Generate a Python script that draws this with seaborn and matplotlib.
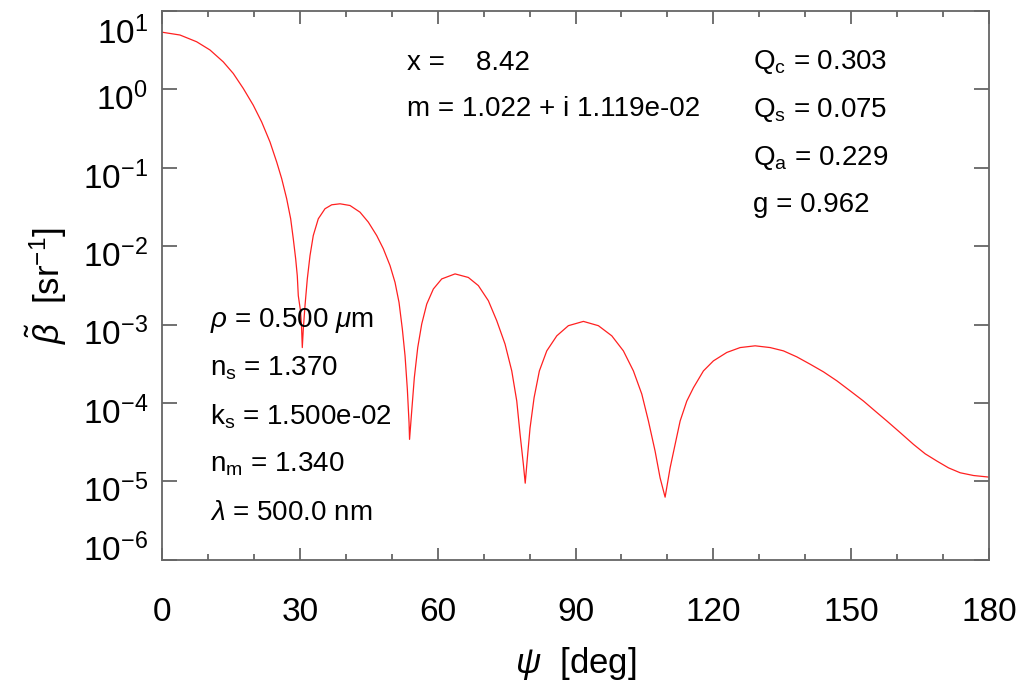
import numpy as np
import pandas as pd
import matplotlib
matplotlib.use("Agg")
import matplotlib.pyplot as plt
import matplotlib.transforms as mtransforms
import seaborn as sns
from matplotlib.ticker import LogLocator, MultipleLocator, NullLocator

# scattering angle [deg] and phase function [1/sr]
psi = [0.15, 3.92, 7.55, 10.45, 13.34, 15.52, 17.70, 19.87, 21.70, 23.51, 24.97, 26.06, 27.14,
       28.01, 28.58, 29.10, 29.45, 29.67, 30.15, 30.37, 30.54,
       30.76, 31.13, 31.63, 32.22, 32.93, 34.02, 35.48, 36.94, 38.75, 40.92, 43.10, 44.91, 46.73,
       48.17, 49.63, 50.72, 51.59, 52.31, 52.90, 53.40, 53.77, 53.88,
       54.35, 54.92, 55.66, 56.53, 57.62, 59.06, 60.88, 63.78, 66.67, 68.85, 71.03, 72.86, 74.66,
       76.12, 77.21, 77.93, 78.65, 79.05,
       79.52, 80.10, 80.98, 82.13, 83.74, 85.92, 88.44, 91.71, 94.97, 97.89, 100.41, 102.59, 104.42,
       105.86, 107.31, 108.40, 109.49,
       110.58, 111.67, 112.76, 114.21, 115.66, 117.83, 120.0, 122.92, 125.82, 129.08, 132.35, 135.24,
       138.16, 141.05, 143.95, 146.87, 149.76, 152.66, 155.20, 157.75, 160.64, 163.54, 166.09, 168.63,
       171.16, 173.70, 176.6, 180.0]
beta = [5.36, 4.95, 4.06, 3.19, 2.25, 1.60, 1.03, 0.630, 0.385, 0.214, 0.1186, 0.0727, 0.0404,
        0.0224, 0.01244, 6.9e-3, 4.2e-3, 2.34e-3, 1.5e-3, 9.7e-4, 5.1e-4,
        8.8e-4, 1.75e-3, 3.83e-3, 7.6e-3, 0.0137, 0.0224, 0.0301, 0.0338, 0.0348, 0.0331, 0.0272, 0.0203, 0.0137,
        9.3e-3, 5.67e-3, 3.46e-3, 1.92e-3, 8.8e-4, 4.0e-4, 1.50e-4, 5.6e-5, 3.44e-5,
        7.9e-5, 2.11e-4, 5.1e-4, 1.02e-3, 1.83e-3, 2.85e-3, 3.83e-3, 4.44e-3, 4.0e-3, 3.15e-3, 2.02e-3, 1.12e-3, 5.65e-4,
        2.57e-4, 1.06e-4, 4.0e-5, 1.65e-5, 9.5e-6,
        2.0e-5, 4.8e-5, 1.17e-4, 2.57e-4, 4.63e-4, 7.2e-4, 9.7e-4, 1.10e-3, 9.7e-4, 7.2e-4, 4.63e-4, 2.57e-4, 1.30e-4,
        5.9e-5, 2.44e-5, 1.11e-5, 6.3e-6,
        1.49e-5, 2.97e-5, 5.9e-5, 1.06e-4, 1.57e-4, 2.57e-4, 3.45e-4, 4.42e-4, 5.1e-4, 5.37e-4, 5.1e-4, 4.63e-4,
        3.88e-4, 3.13e-4, 2.50e-4, 1.92e-4, 1.43e-4, 1.06e-4, 7.9e-5, 5.9e-5, 4.2e-5, 2.97e-5, 2.25e-5, 1.82e-5,
        1.49e-5, 1.29e-5, 1.19e-5, 1.135e-5]

top_labels = ["x =    8.42", "m = 1.022 + i 1.119e-02"]
q_labels = [r"$\mathrm{Q_c}$ = 0.303", r"$\mathrm{Q_s}$ = 0.075",
            r"$\mathrm{Q_a}$ = 0.229", "g = 0.962"]
param_labels = [r"$\rho$ = 0.500 $\mu$m", r"$\mathrm{n_s}$ = 1.370", r"$\mathrm{k_s}$ = 1.500e-02",
                r"$\mathrm{n_m}$ = 1.340", r"$\lambda$ = 500.0 nm"]

df = pd.DataFrame({"psi": psi, "beta": beta})

sns.set_style("ticks")
plt.rcParams["font.family"] = ["Liberation Sans", "DejaVu Sans"]
plt.rcParams["mathtext.fontset"] = "custom"
plt.rcParams["mathtext.rm"] = "Liberation Sans"
plt.rcParams["mathtext.it"] = "Liberation Sans:italic"
plt.rcParams["mathtext.bf"] = "Liberation Sans:bold"
plt.rcParams["axes.unicode_minus"] = False
plt.rcParams["text.color"] = "black"
plt.rcParams["axes.labelcolor"] = "black"
plt.rcParams["xtick.labelcolor"] = "black"
plt.rcParams["ytick.labelcolor"] = "black"

fig, ax = plt.subplots(figsize=(10.25, 6.92), dpi=100)
fig.subplots_adjust(left=0.158, right=0.965, top=0.984, bottom=0.191)

sns.lineplot(data=df, x="psi", y="beta", color="#ff2020", linewidth=0.9,
             estimator=None, sort=False, ax=ax)

ax.set_yscale("log")
ax.set_xlim(0, 180)
ax.set_ylim(1e-6, 1e1)
ax.xaxis.set_major_locator(MultipleLocator(30))
ax.xaxis.set_minor_locator(MultipleLocator(10))
ax.yaxis.set_major_locator(LogLocator(base=10, numticks=20))
ax.yaxis.set_minor_locator(NullLocator())

edge = "#666666"
for s in ax.spines.values():
    s.set_color(edge)
    s.set_linewidth(1.3)
ax.tick_params(axis="both", which="both", direction="in", top=True, right=True, color=edge, width=1.3)
ax.tick_params(axis="x", which="major", length=9, labelsize=24, pad=27, labelcolor="black")
ax.tick_params(axis="x", which="minor", length=4)
ax.tick_params(axis="y", which="major", length=11, labelsize=24, pad=10, labelcolor="black")

ax.set_xlabel(r"$\psi$  [deg]", fontsize=25, labelpad=12, color="black")
ax.set_ylabel(r"$\tilde{\beta}$  [sr$^{-1}$]", fontsize=25, labelpad=10, color="black")

# nudge the y tick labels like the original (end labels kept inside)
ylocs = ax.yaxis.get_majorticklocs()
ylabs = ax.get_yticklabels()
for v, lab in zip(ylocs, ylabs):
    dy = -7
    if v >= 9.9:
        dy = -19
    elif v <= 1.01e-6:
        dy = 12
    off = mtransforms.ScaledTranslation(0, dy / 100, fig.dpi_scale_trans)
    lab.set_transform(lab.get_transform() + off)

for i, t in enumerate(top_labels):
    ax.text(0.296, 0.905 - i * 0.083, t, transform=ax.transAxes, fontsize=20, va="center", color="black")
for i, t in enumerate(q_labels):
    ax.text(0.715, 0.907 - i * 0.087, t, transform=ax.transAxes, fontsize=20, va="center", color="black")
for i, t in enumerate(param_labels):
    ax.text(0.058, 0.437 - i * 0.0877, t, transform=ax.transAxes, fontsize=20, va="center", color="black")

fig.savefig("out.png", dpi=100)
